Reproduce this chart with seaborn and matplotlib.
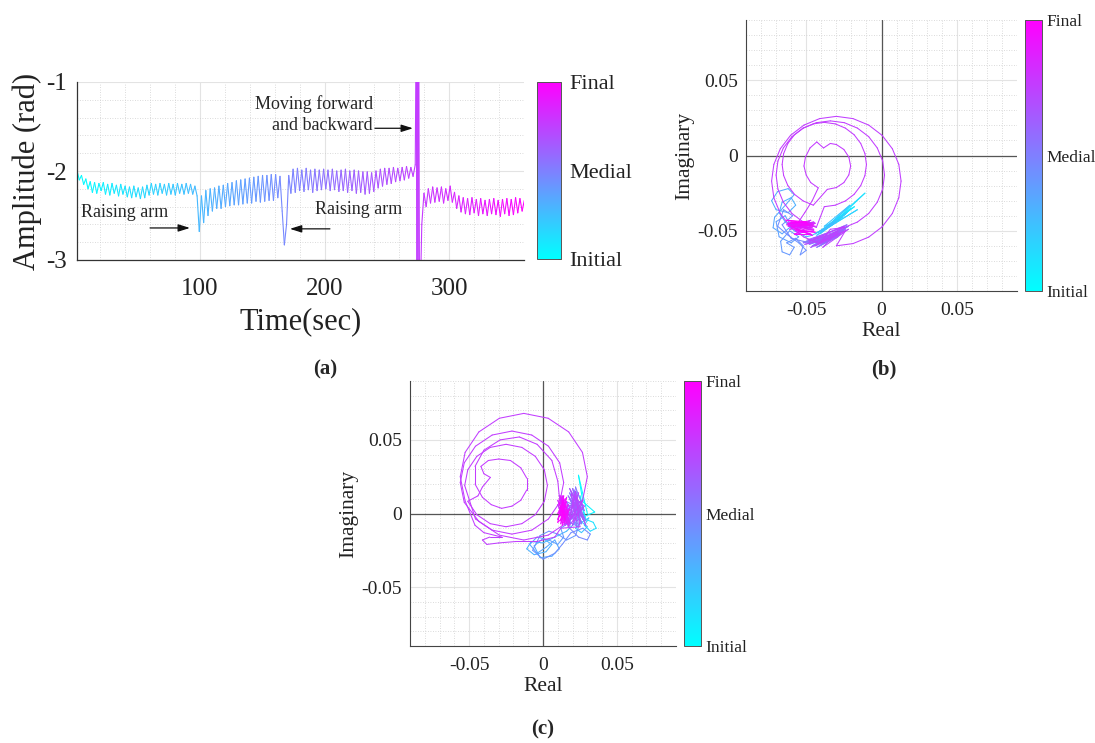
import numpy as np
import pandas as pd
import matplotlib
matplotlib.use("Agg")
import matplotlib.pyplot as plt
import matplotlib.colors as mcolors
import matplotlib.colorbar as mcolorbar
from matplotlib.ticker import MultipleLocator, FixedLocator
import seaborn as sns

sns.set_style("white")
plt.rcParams["font.family"] = ["Liberation Serif", "DejaVu Serif"]
plt.rcParams["axes.unicode_minus"] = False

# ---------------- data: panel (a) phase time series ----------------
t_start_a = 1.5
t_step_a = 1.75
amp_a = [
    -2.00, -2.10, -2.05, -2.15, -2.09, -2.20, -2.12, -2.24, -2.13, -2.25,
    -2.14, -2.22, -2.13, -2.26, -2.15, -2.27, -2.14, -2.25, -2.16, -2.28,
    -2.15, -2.26, -2.17, -2.29, -2.18, -2.30, -2.17, -2.29, -2.19, -2.31,
    -2.18, -2.30, -2.16, -2.27, -2.14, -2.26, -2.15, -2.27, -2.14, -2.25,
    -2.15, -2.27, -2.14, -2.26, -2.15, -2.27, -2.14, -2.25, -2.15, -2.26,
    -2.14, -2.25, -2.15, -2.26, -2.17, -2.28, -2.68, -2.28, -2.58, -2.22,
    -2.50, -2.20, -2.45, -2.19, -2.42, -2.17, -2.42, -2.16, -2.40, -2.14,
    -2.39, -2.13, -2.38, -2.11, -2.38, -2.10, -2.37, -2.09, -2.36, -2.08,
    -2.36, -2.07, -2.34, -2.06, -2.35, -2.05, -2.34, -2.05, -2.33, -2.04,
    -2.33, -2.04, -2.30, -2.06, -2.45, -2.83, -2.60, -2.05, -2.25, -1.98,
    -2.24, -1.97, -2.22, -1.99, -2.23, -1.97, -2.21, -1.99, -2.24, -1.98,
    -2.22, -1.99, -2.21, -1.98, -2.20, -1.99, -2.22, -1.98, -2.21, -2.00,
    -2.23, -1.99, -2.22, -1.98, -2.24, -2.00, -2.22, -1.99, -2.25, -2.00,
    -2.24, -2.01, -2.26, -2.01, -2.25, -2.02, -2.23, -2.00, -2.19, -1.98,
    -2.17, -1.97, -2.15, -1.97, -2.14, -1.96, -2.12, -1.97, -2.11, -1.96,
    -2.10, -1.95, -2.08, -1.96, -2.06, -1.93, -0.20, -3.80, -2.60, -2.25,
    -2.40, -2.20, -2.36, -2.18, -2.35, -2.19, -2.34, -2.18, -2.36, -2.20,
    -2.33, -2.17, -2.35, -2.24, -2.42, -2.28, -2.46, -2.30, -2.48, -2.31,
    -2.49, -2.30, -2.47, -2.32, -2.50, -2.31, -2.48, -2.33, -2.50, -2.32,
    -2.48, -2.31, -2.49, -2.33, -2.51, -2.32, -2.48, -2.31, -2.50, -2.32,
    -2.49, -2.30, -2.47, -2.31, -2.45, -2.33,
]
# extra samples of the fast swing while moving forward and backward
spike_t = [273.6, 274.1, 275.0, 275.5]
spike_amp = [-0.20, -3.80, -3.80, -0.20]
x_ticks_a = [100, 200, 300]
y_ticks_a = [-3, -2, -1]

# phase boundaries (sec) shared by the complex-plane trajectories
phase_t = [0, 100, 170, 272, 277, 360]

# ---------------- data: panel (b) ----------------
b_initial = [(-0.028, -0.040), (-0.036, -0.047), (-0.022, -0.037), (-0.040, -0.050), (-0.025, -0.039),
             (-0.038, -0.049), (-0.018, -0.034), (-0.035, -0.046), (-0.026, -0.041), (-0.042, -0.051),
             (-0.020, -0.035), (-0.037, -0.048), (-0.011, -0.025), (-0.034, -0.047), (-0.024, -0.039),
             (-0.041, -0.052), (-0.027, -0.042), (-0.039, -0.050), (-0.016, -0.036), (-0.036, -0.048),
             (-0.023, -0.038), (-0.043, -0.053), (-0.029, -0.043), (-0.038, -0.047), (-0.021, -0.033),
             (-0.040, -0.051), (-0.030, -0.044), (-0.044, -0.052), (-0.032, -0.045), (-0.046, -0.053)]
b_blue = [(-0.050, -0.054), (-0.058, -0.050), (-0.064, -0.044), (-0.068, -0.038), (-0.066, -0.031),
          (-0.060, -0.028), (-0.057, -0.033), (-0.062, -0.038), (-0.070, -0.036), (-0.073, -0.030),
          (-0.069, -0.024), (-0.062, -0.022), (-0.058, -0.026), (-0.063, -0.032), (-0.071, -0.041),
          (-0.072, -0.048), (-0.066, -0.052), (-0.060, -0.047), (-0.064, -0.040), (-0.070, -0.044),
          (-0.068, -0.054), (-0.060, -0.058), (-0.055, -0.054), (-0.061, -0.050), (-0.067, -0.057),
          (-0.066, -0.064), (-0.061, -0.066), (-0.058, -0.061), (-0.063, -0.058), (-0.057, -0.055),
          (-0.052, -0.060), (-0.054, -0.066), (-0.050, -0.063), (-0.055, -0.058), (-0.062, -0.053),
          (-0.069, -0.047), (-0.065, -0.036), (-0.059, -0.040), (-0.066, -0.046), (-0.060, -0.055),
          (-0.052, -0.057), (-0.047, -0.058)]
b_purple = [(-0.050, -0.057), (-0.030, -0.052), (-0.046, -0.060), (-0.026, -0.050), (-0.044, -0.058),
            (-0.022, -0.047), (-0.041, -0.060), (-0.028, -0.053), (-0.048, -0.059), (-0.024, -0.049),
            (-0.043, -0.061), (-0.029, -0.054), (-0.052, -0.058), (-0.023, -0.046), (-0.040, -0.059),
            (-0.027, -0.051), (-0.046, -0.057), (-0.025, -0.050), (-0.038, -0.058), (-0.030, -0.053),
            (-0.049, -0.056), (-0.026, -0.048), (-0.042, -0.057), (-0.031, -0.052), (-0.045, -0.055),
            (-0.028, -0.050), (-0.036, -0.056), (-0.024, -0.048), (-0.047, -0.061), (-0.033, -0.055),
            (-0.051, -0.059), (-0.027, -0.052), (-0.044, -0.060), (-0.022, -0.049), (-0.039, -0.061),
            (-0.029, -0.051), (-0.048, -0.057), (-0.025, -0.047), (-0.041, -0.058), (-0.024, -0.050)]
b_loops = [(-0.0300, -0.0600), (-0.0189, -0.0585), (-0.0085, -0.0542), (0.0004, -0.0474), (0.0072, -0.0385),
           (0.0115, -0.0281), (0.0130, -0.0170), (0.0115, -0.0059), (0.0072, 0.0045), (0.0004, 0.0134),
           (-0.0085, 0.0202), (-0.0189, 0.0245), (-0.0300, 0.0260), (-0.0411, 0.0245), (-0.0515, 0.0202),
           (-0.0604, 0.0134), (-0.0672, 0.0045), (-0.0715, -0.0059), (-0.0730, -0.0170), (-0.0715, -0.0281),
           (-0.0672, -0.0385), (-0.0604, -0.0474), (-0.0515, -0.0542), (-0.0411, -0.0585),
           (-0.0340, -0.0490), (-0.0247, -0.0478), (-0.0160, -0.0442), (-0.0085, -0.0385), (-0.0028, -0.0310),
           (0.0008, -0.0223), (0.0020, -0.0130), (0.0008, -0.0037), (-0.0028, 0.0050), (-0.0085, 0.0125),
           (-0.0160, 0.0182), (-0.0247, 0.0218), (-0.0340, 0.0230), (-0.0433, 0.0218), (-0.0520, 0.0182),
           (-0.0595, 0.0125), (-0.0652, 0.0050), (-0.0688, -0.0037), (-0.0700, -0.0130), (-0.0688, -0.0223),
           (-0.0652, -0.0310), (-0.0595, -0.0385), (-0.0520, -0.0442), (-0.0433, -0.0478),
           (-0.0380, -0.0340), (-0.0307, -0.0330), (-0.0240, -0.0302), (-0.0182, -0.0258), (-0.0138, -0.0200),
           (-0.0110, -0.0133), (-0.0100, -0.0060), (-0.0110, 0.0013), (-0.0138, 0.0080), (-0.0182, 0.0138),
           (-0.0240, 0.0182), (-0.0307, 0.0210), (-0.0380, 0.0220), (-0.0453, 0.0210), (-0.0520, 0.0182),
           (-0.0578, 0.0138), (-0.0622, 0.0080), (-0.0650, 0.0013), (-0.0660, -0.0060), (-0.0650, -0.0133),
           (-0.0622, -0.0200), (-0.0578, -0.0258), (-0.0520, -0.0302), (-0.0453, -0.0330),
           (-0.0360, -0.0225), (-0.0300, -0.0213), (-0.0250, -0.0180), (-0.0217, -0.0129), (-0.0205, -0.0070),
           (-0.0217, -0.0010), (-0.0250, 0.0040), (-0.0300, 0.0073), (-0.0340, 0.0080), (-0.0385, 0.0050),
           (-0.0430, 0.0090), (-0.0475, 0.0050), (-0.0505, -0.0010), (-0.0515, -0.0070), (-0.0500, -0.0130),
           (-0.0470, -0.0180), (-0.0420, -0.0215),
           (-0.0460, -0.0300), (-0.0510, -0.0380), (-0.0550, -0.0440)]
b_final = [(-0.050, -0.047), (-0.062, -0.045), (-0.046, -0.046), (-0.060, -0.048), (-0.045, -0.044),
           (-0.061, -0.044), (-0.048, -0.049), (-0.063, -0.046), (-0.044, -0.045), (-0.058, -0.049),
           (-0.047, -0.043), (-0.062, -0.047), (-0.046, -0.048), (-0.059, -0.045), (-0.044, -0.047),
           (-0.061, -0.049), (-0.048, -0.044), (-0.060, -0.046), (-0.045, -0.049), (-0.057, -0.050),
           (-0.046, -0.045), (-0.062, -0.046), (-0.049, -0.048), (-0.058, -0.047), (-0.045, -0.046),
           (-0.056, -0.051), (-0.045, -0.050), (-0.058, -0.052), (-0.047, -0.052), (-0.055, -0.050),
           (-0.044, -0.051), (-0.057, -0.049), (-0.046, -0.053), (-0.060, -0.047), (-0.048, -0.046),
           (-0.062, -0.045), (-0.050, -0.044), (-0.063, -0.043), (-0.049, -0.045), (-0.060, -0.044)]

# ---------------- data: panel (c) ----------------
c_initial = [(0.030, 0.000), (0.024, 0.026), (0.027, 0.008), (0.035, 0.001), (0.028, -0.002),
             (0.025, 0.012), (0.029, -0.004), (0.034, -0.006), (0.036, -0.010), (0.032, -0.012),
             (0.028, -0.008), (0.031, -0.003), (0.026, -0.006), (0.022, -0.010), (0.026, -0.013),
             (0.030, -0.009), (0.024, -0.004), (0.020, -0.008)]
c_blue = [(0.016, -0.012), (0.008, -0.016), (0.000, -0.020), (-0.008, -0.019), (-0.011, -0.024),
          (-0.006, -0.028), (0.002, -0.026), (0.006, -0.021), (0.000, -0.017), (-0.006, -0.022),
          (-0.002, -0.030), (0.006, -0.029), (0.011, -0.024), (0.008, -0.018), (0.002, -0.023),
          (-0.004, -0.027), (-0.009, -0.021), (-0.004, -0.016), (0.004, -0.018), (0.010, -0.021),
          (0.014, -0.016), (0.012, -0.010), (0.018, -0.006), (0.024, -0.009), (0.022, -0.015),
          (0.016, -0.018), (0.010, -0.014), (0.004, -0.012), (-0.002, -0.015), (-0.007, -0.025),
          (0.000, -0.031), (0.008, -0.027), (0.013, -0.021), (0.019, -0.013), (0.027, -0.010),
          (0.032, -0.014), (0.030, -0.018), (0.024, -0.016), (0.018, -0.010)]
c_purple = [(0.020, 0.010), (0.026, -0.006), (0.018, 0.014), (0.027, -0.004), (0.021, 0.016),
            (0.024, -0.008), (0.016, 0.008), (0.028, 0.002), (0.022, 0.018), (0.025, -0.002),
            (0.017, 0.012), (0.029, -0.005), (0.019, 0.015), (0.023, -0.009), (0.015, 0.006),
            (0.027, 0.004), (0.021, 0.013), (0.026, -0.007), (0.018, 0.010), (0.024, 0.001),
            (0.020, 0.017), (0.028, -0.003), (0.016, 0.004), (0.025, 0.008), (0.019, -0.004),
            (0.023, 0.012), (0.014, -0.002), (0.022, 0.006), (0.017, -0.008), (0.021, 0.011),
            (0.029, -0.008), (0.018, 0.017), (0.026, 0.003), (0.016, -0.006), (0.024, 0.014),
            (0.020, -0.008), (0.027, 0.009), (0.015, 0.002), (0.023, -0.005), (0.019, 0.013),
            (0.028, 0.005), (0.017, -0.009), (0.022, 0.015), (0.025, -0.009), (0.012, -0.010)]
c_loops = [(0.008, -0.016), (-0.004, -0.019), (-0.018, -0.019), (-0.030, -0.020), (-0.038, -0.021),
           (-0.041, -0.018), (-0.036, -0.016), (-0.028, -0.016), (-0.040, -0.013), (-0.046, -0.008),
           (-0.0527, 0.0085), (-0.0560, 0.0250), (-0.0527, 0.0415), (-0.0434, 0.0554), (-0.0295, 0.0647),
           (-0.0130, 0.0680), (0.0035, 0.0647), (0.0174, 0.0554), (0.0267, 0.0415), (0.0300, 0.0250),
           (0.0267, 0.0085), (0.0174, -0.0054), (0.0035, -0.0147), (-0.0130, -0.0180), (-0.0295, -0.0147),
           (-0.0434, -0.0054),
           (-0.0533, 0.0076), (-0.0560, 0.0210), (-0.0533, 0.0344), (-0.0457, 0.0457), (-0.0344, 0.0533),
           (-0.0210, 0.0560), (-0.0076, 0.0533), (0.0037, 0.0457), (0.0113, 0.0344), (0.0140, 0.0210),
           (0.0113, 0.0076), (0.0037, -0.0037), (-0.0076, -0.0113), (-0.0210, -0.0140), (-0.0344, -0.0113),
           (-0.0457, -0.0037),
           (-0.0530, 0.0190), (-0.0509, 0.0297), (-0.0448, 0.0388), (-0.0357, 0.0449), (-0.0250, 0.0470),
           (-0.0143, 0.0449), (-0.0052, 0.0388), (0.0009, 0.0297), (0.0030, 0.0190), (0.0009, 0.0083),
           (-0.0052, -0.0008), (-0.0143, -0.0069), (-0.0250, -0.0090), (-0.0357, -0.0069), (-0.0448, -0.0008),
           (-0.0509, 0.0083),
           (-0.0440, 0.0120), (-0.0410, 0.0180), (-0.0356, 0.0245), (-0.0400, 0.0270), (-0.0420, 0.0320),
           (-0.0370, 0.0360), (-0.0300, 0.0370), (-0.0220, 0.0360), (-0.0150, 0.0310), (-0.0110, 0.0240),
           (-0.0110, 0.0160), (-0.0150, 0.0090), (-0.0210, 0.0050), (-0.0280, 0.0035), (-0.0350, 0.0060),
           (-0.0410, 0.0110),
           (-0.0460, 0.0200), (-0.0460, 0.0320), (-0.0400, 0.0430), (-0.0290, 0.0500), (-0.0160, 0.0520),
           (-0.0040, 0.0470), (0.0060, 0.0360), (0.0100, 0.0220), (0.0110, 0.0120)]
c_final = [(0.012, 0.010), (0.016, -0.006), (0.011, 0.012), (0.017, -0.004), (0.013, 0.008),
           (0.018, -0.007), (0.010, 0.006), (0.015, -0.008), (0.012, 0.011), (0.018, -0.002),
           (0.011, 0.004), (0.016, -0.005), (0.013, 0.012), (0.017, -0.008), (0.010, 0.009),
           (0.015, -0.003), (0.012, 0.007), (0.018, -0.006), (0.011, 0.010), (0.016, -0.007),
           (0.013, 0.005), (0.017, -0.003), (0.012, 0.012), (0.015, -0.006), (0.011, 0.002),
           (0.014, 0.009), (0.010, -0.004), (0.016, 0.011), (0.012, -0.007), (0.017, 0.006),
           (0.010, 0.000), (0.015, 0.010), (0.013, -0.008), (0.018, 0.003), (0.011, -0.002),
           (0.016, 0.008), (0.012, -0.005), (0.014, 0.012), (0.010, -0.006), (0.017, 0.001),
           (0.013, 0.009), (0.015, -0.004), (0.011, 0.007)]

cplx_ticks = [-0.05, 0, 0.05]
cbar_labels = ["Initial", "Medial", "Final"]

# ---------------- helpers ----------------
CMAP = "cool"
T_NORM = (0, 360)


def segment_frame(x, y, c):
    x = np.asarray(x, float)
    y = np.asarray(y, float)
    c = np.asarray(c, float)
    n = len(x)
    a = np.arange(n - 1)
    idx = np.column_stack([a, a + 1]).ravel()
    cm = (c[:-1] + c[1:]) / 2.0
    return pd.DataFrame({"x": x[idx], "y": y[idx],
                         "c": np.repeat(cm, 2), "seg": np.repeat(a, 2)})


def trajectory(phases):
    xs, ys, cs = [], [], []
    for i, pts in enumerate(phases):
        arr = np.asarray(pts, float)
        xs.append(arr[:, 0])
        ys.append(arr[:, 1])
        cs.append(np.linspace(phase_t[i], phase_t[i + 1], len(arr)))
    return np.concatenate(xs), np.concatenate(ys), np.concatenate(cs)


def draw_colored(ax, df, lw):
    sns.lineplot(data=df, x="x", y="y", hue="c", units="seg", estimator=None,
                 palette=CMAP, hue_norm=T_NORM, legend=False, sort=False,
                 linewidth=lw, ax=ax)


def add_cbar(fig, rect, fs, pad):
    cax = fig.add_axes(rect)
    cb = mcolorbar.ColorbarBase(cax, cmap=plt.get_cmap(CMAP),
                                norm=mcolors.Normalize(0, 1), orientation="vertical")
    cb.set_ticks([0, 0.5, 1])
    cb.set_ticklabels(cbar_labels)
    cax.tick_params(direction="in", length=2, width=0.6, labelsize=fs, pad=pad,
                    colors="#333333", labelcolor="#222222")
    cb.outline.set_edgecolor("#555555")
    cb.outline.set_linewidth(0.7)
    return cb


GRID_MAJ = dict(color="#e3e3e3", linewidth=0.8, linestyle="-")
GRID_MIN = dict(color="#cfcfcf", linewidth=0.6, linestyle=(0, (1, 2)))

W, H = 1095, 743
fig = plt.figure(figsize=(W / 100, H / 100), dpi=100)


def rect(l, t, r, b):
    return [l / W, 1 - b / H, (r - l) / W, (b - t) / H]


# ---------------- panel (a) ----------------
ax_a = fig.add_axes(rect(77, 82, 524, 260))
time_a = t_start_a + t_step_a * np.arange(len(amp_a))
t_all = np.concatenate([time_a, spike_t])
v_all = np.concatenate([amp_a, spike_amp])
order = np.argsort(t_all, kind="stable")
df_a = segment_frame(t_all[order], v_all[order], t_all[order])
draw_colored(ax_a, df_a, 0.8)
ax_a.set_xlim(1.4, 360)
ax_a.set_ylim(-3, -1)
ax_a.xaxis.set_major_locator(FixedLocator(x_ticks_a))
ax_a.yaxis.set_major_locator(FixedLocator(y_ticks_a))
ax_a.xaxis.set_minor_locator(MultipleLocator(20))
ax_a.yaxis.set_minor_locator(MultipleLocator(0.2))
ax_a.grid(which="major", **GRID_MAJ)
ax_a.grid(which="minor", **GRID_MIN)
ax_a.set_axisbelow(True)
ax_a.tick_params(which="major", direction="in", length=4, width=0.8, labelsize=18,
                 colors="#333333", labelcolor="#222222")
ax_a.tick_params(axis="x", pad=13)
ax_a.tick_params(axis="y", pad=7)
ax_a.tick_params(which="minor", length=0)
for s in ["top", "right"]:
    ax_a.spines[s].set_visible(False)
for s in ["left", "bottom"]:
    ax_a.spines[s].set_color("#333333")
    ax_a.spines[s].set_linewidth(0.9)
ax_a.set_xlabel("Time(sec)", fontsize=22, color="#222222", labelpad=5)
ax_a.set_ylabel("Amplitude (rad)", fontsize=22, color="#222222", labelpad=3)

arrow_kw = dict(arrowstyle="-|>,head_length=0.7,head_width=0.22", color="#111111",
                lw=0.9, shrinkA=0, shrinkB=0)
ax_a.text(39.9, -2.47, "Raising arm", fontsize=13, ha="center", va="center")
ax_a.annotate("", xy=(92.0, -2.64), xytext=(60.0, -2.64), arrowprops=arrow_kw)
ax_a.text(192.3, -2.43, "Raising arm", fontsize=13, ha="left", va="center")
ax_a.annotate("", xy=(172.2, -2.65), xytext=(204.3, -2.65), arrowprops=arrow_kw)
ax_a.text(238.8, -1.37, "Moving forward\nand backward", fontsize=13, ha="right",
          va="center", linespacing=1.3)
ax_a.annotate("", xy=(270.9, -1.52), xytext=(240.4, -1.52), arrowprops=arrow_kw)

add_cbar(fig, rect(537, 82, 561, 259), 16, 6)


# ---------------- panels (b), (c) ----------------
def fmt(v, p):
    return "0" if abs(v) < 1e-9 else f"{v:g}"


def complex_panel(ax_rect, cb_rect, phases):
    ax = fig.add_axes(ax_rect)
    x, y, c = trajectory(phases)
    ax.axhline(0, color="#555555", lw=0.9, zorder=1)
    ax.axvline(0, color="#555555", lw=0.9, zorder=1)
    draw_colored(ax, segment_frame(x, y, c), 0.75)
    ax.set_xlim(-0.09, 0.09)
    ax.set_ylim(-0.09, 0.09)
    ax.xaxis.set_major_locator(FixedLocator(cplx_ticks))
    ax.yaxis.set_major_locator(FixedLocator(cplx_ticks))
    ax.xaxis.set_major_formatter(plt.FuncFormatter(fmt))
    ax.yaxis.set_major_formatter(plt.FuncFormatter(fmt))
    ax.xaxis.set_minor_locator(MultipleLocator(0.01))
    ax.yaxis.set_minor_locator(MultipleLocator(0.01))
    ax.grid(which="major", **GRID_MAJ)
    ax.grid(which="minor", **GRID_MIN)
    ax.set_axisbelow(True)
    ax.tick_params(which="major", direction="in", length=3, width=0.7, labelsize=14,
                   colors="#333333", labelcolor="#222222")
    ax.tick_params(axis="x", pad=8)
    ax.tick_params(axis="y", pad=6)
    ax.tick_params(which="minor", length=0)
    for s in ["top", "right"]:
        ax.spines[s].set_visible(False)
    for s in ["left", "bottom"]:
        ax.spines[s].set_color("#444444")
        ax.spines[s].set_linewidth(0.8)
    ax.set_xlabel("Real", fontsize=15.5, color="#222222", labelpad=2)
    ax.set_ylabel("Imaginary", fontsize=15.5, color="#222222", labelpad=2)
    add_cbar(fig, cb_rect, 12.5, 3)
    return ax


complex_panel(rect(746, 20, 1017, 291), rect(1025, 20, 1042, 291),
              [b_initial, b_blue, b_purple, b_loops, b_final])
complex_panel(rect(410, 381, 676, 646), rect(684, 381, 701, 646),
              [c_initial, c_blue, c_purple, c_loops, c_final])

# panel letters
fig.text(325 / W, 1 - 369 / H, "(a)", fontsize=15, fontweight="bold", ha="center", va="center")
fig.text(884 / W, 1 - 369 / H, "(b)", fontsize=15, fontweight="bold", ha="center", va="center")
fig.text(543 / W, 1 - 729 / H, "(c)", fontsize=15, fontweight="bold", ha="center", va="center")

fig.savefig("out.png", dpi=100)
